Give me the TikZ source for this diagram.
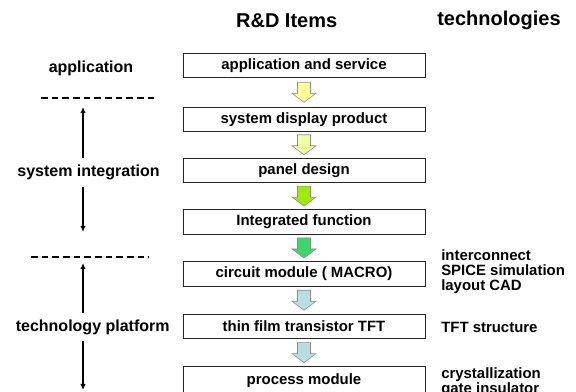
\documentclass[tikz,border=0pt]{standalone}
\usepackage{fontspec}
\setmainfont{Liberation Sans}
\usepackage{tikz}
\usetikzlibrary{calc,arrows.meta}

\definecolor{arrowA}{HTML}{FFFF99}
\definecolor{arrowB}{HTML}{F0FFA6}
\definecolor{arrowC}{HTML}{9CEB0A}
\definecolor{arrowD}{HTML}{3DD66B}
\definecolor{arrowE}{HTML}{B8DEE0}

\begin{document}
\begin{tikzpicture}[x=0.75pt,y=-0.75pt,
    item_node/.style={draw=black!85,line width=0.6pt,minimum width=181.5pt,minimum height=18.4pt,inner sep=0pt,font=\fontsize{11.2}{13}\selectfont\bfseries},
    level_node/.style={inner xsep=0pt,inner ysep=4.9pt,font=\fontsize{12}{14}\selectfont\bfseries},
    tech_node/.style={anchor=west,align=left,inner sep=0pt,font=\fontsize{11.2}{11.25}\selectfont\bfseries},
    head_node/.style={font=\fontsize{15}{18}\selectfont\bfseries},
    block_arrow/.style={draw=black!45,line width=0.4pt},
    level_line/.style={line width=2.1pt,dash pattern=on 5pt off 3pt},
    level_arrow/.style={line width=1.5pt,-{Latex[length=4.5pt,width=4pt]}}]
    \useasboundingbox (0,0) rectangle (576,392);
    \clip (0,0) rectangle (576,392);
    % headings
    \node[head_node] (h1) at (286.7,20.5) {R\&D Items};
    \node[head_node] (h2) at (499,20.5) {technologies};
    % R&D items
    \node[item_node] (1) at (304,65.3) {application and service};
    \node[item_node] (2) at (304,119.3) {system display product};
    \node[item_node] (3) at (304,170.2) {panel design};
    \node[item_node] (4) at (304,222) {Integrated function};
    \node[item_node] (5) at (304,274) {circuit module ( MACRO)};
    \node[item_node] (6) at (304,326.5) {thin film transistor TFT};
    \node[item_node,minimum height=21pt] (7) at (304,380.5) {process module};
    % block arrows
    \filldraw[block_arrow,fill=arrowA] ($(1.south)!.5!(2.north)$) ++(-6.5,-10) -- ++(13,0) -- ++(0,11) -- ++(5.5,0) -- ++(-12,9) -- ++(-12,-9) -- ++(5.5,0) -- cycle;
    \filldraw[block_arrow,fill=arrowB] ($(2.south)!.5!(3.north)$) ++(-6.5,-10) -- ++(13,0) -- ++(0,11) -- ++(5.5,0) -- ++(-12,9) -- ++(-12,-9) -- ++(5.5,0) -- cycle;
    \filldraw[block_arrow,fill=arrowC] ($(3.south)!.5!(4.north)$) ++(-6.5,-10) -- ++(13,0) -- ++(0,11) -- ++(5.5,0) -- ++(-12,9) -- ++(-12,-9) -- ++(5.5,0) -- cycle;
    \filldraw[block_arrow,fill=arrowD] ($(4.south)!.5!(5.north)$) ++(-6.5,-10) -- ++(13,0) -- ++(0,11) -- ++(5.5,0) -- ++(-12,9) -- ++(-12,-9) -- ++(5.5,0) -- cycle;
    \filldraw[block_arrow,fill=arrowE] ($(5.south)!.5!(6.north)$) ++(-6.5,-10) -- ++(13,0) -- ++(0,11) -- ++(5.5,0) -- ++(-12,9) -- ++(-12,-9) -- ++(5.5,0) -- cycle;
    \filldraw[block_arrow,fill=arrowE] ($(6.south)!.5!(7.north)$) ++(-6.5,-10) -- ++(13,0) -- ++(0,11) -- ++(5.5,0) -- ++(-12,9) -- ++(-12,-9) -- ++(5.5,0) -- cycle;
    % levels
    \node[level_node] (app) at (91,68) {application};
    \node[level_node] (sys) at (88.5,172.7) {system integration};
    \node[level_node] (tec) at (92.7,327) {technology platform};
    \draw[level_line] (41,98) -- (155,98);
    \draw[level_line] (31,257) -- (149,257);
    \coordinate (s1) at (83,107);
    \coordinate (s2) at (83,232);
    \coordinate (t1) at (83,263);
    \coordinate (t2) at (83,390);
    \draw[level_arrow] (sys.north -| s1) -- (s1);
    \draw[level_arrow] (sys.south -| s2) -- (s2);
    \draw[level_arrow] (tec.north -| t1) -- (t1);
    \draw[level_arrow] (tec.south -| t2) -- (t2);
    % technologies
    \node[tech_node] (k1) at (441,272) {interconnect\\SPICE simulation\\layout CAD};
    \node[tech_node] (k2) at (441,327.5) {TFT structure};
    \node[tech_node] (k3) at (441,381.7) {crystallization\\gate insulator};
\end{tikzpicture}
\end{document}
